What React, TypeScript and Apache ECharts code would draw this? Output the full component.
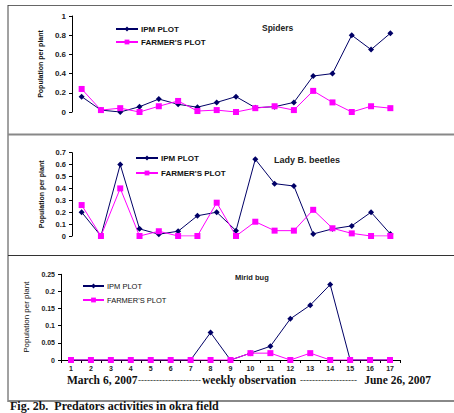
import React, { useEffect, useRef } from "react";
import * as echarts from "echarts";

const weeks = ["1","2","3","4","5","6","7","8","9","10","11","12","13","14","15","16","17"];

const spidersIPM = [0.16, 0.02, 0, 0.055, 0.135, 0.08, 0.05, 0.1, 0.16, 0.045, 0.055, 0.1, 0.375, 0.4, 0.8, 0.65, 0.82];
const spidersFarmer = [0.24, 0.02, 0.04, 0, 0.06, 0.115, 0.01, 0.02, 0, 0.04, 0.06, 0.02, 0.22, 0.1, 0, 0.06, 0.04];

const ladyIPM = [0.2, 0, 0.6, 0.06, 0.015, 0.04, 0.17, 0.2, 0.045, 0.645, 0.44, 0.42, 0.017, 0.06, 0.085, 0.2, 0.017];
const ladyFarmer = [0.26, 0, 0.4, 0, 0.04, 0, 0, 0.28, 0, 0.12, 0.045, 0.045, 0.22, 0.065, 0.022, 0, 0];

const miridIPM = [0, 0, 0, 0, 0, 0, 0, 0.08, 0, 0.02, 0.04, 0.12, 0.16, 0.22, 0, 0, 0];
const miridFarmer = [0, 0, 0, 0, 0, 0, 0, 0, 0, 0.02, 0.02, 0, 0.02, 0, 0, 0, 0];

const panelTitles = ["Spiders", "Lady B. beetles", "Mirid bug"];
const seriesNames = ["IPM PLOT", "FARMER'S PLOT"];
const yName = "Population per plant";

const NAVY = "#000066";
const MAGENTA = "#FF00FF";
const SANS = "'Liberation Sans', Arial, sans-serif";
const SERIF = "'Liberation Serif', 'Times New Roman', serif";

export default function App() {
  const ref = useRef<HTMLDivElement>(null);

  useEffect(() => {
    if (!ref.current) return;
    const chart = echarts.init(ref.current, undefined, { renderer: "svg" });

    const grids = [
      { left: 72, top: 16, width: 328, height: 96 },
      { left: 72, top: 152.7, width: 328, height: 83.3 },
      { left: 61, top: 274.3, width: 339, height: 85.7 },
    ];

    const yCfg = [
      { max: 1, interval: 0.2, font: 8, weight: "bold", nameSize: 7, nameWeight: "bold", nameGap: 27 },
      { max: 0.7, interval: 0.1, font: 7.5, weight: "bold", nameSize: 7, nameWeight: "bold", nameGap: 27 },
      { max: 0.25, interval: 0.05, font: 7, weight: "bold", nameSize: 8, nameWeight: "normal", nameGap: 30 },
    ];

    const data = [
      [spidersIPM, spidersFarmer],
      [ladyIPM, ladyFarmer],
      [miridIPM, miridFarmer],
    ];

    const series: any[] = [];
    data.forEach((pair, i) => {
      series.push({
        name: seriesNames[0],
        type: "line",
        xAxisIndex: i,
        yAxisIndex: i,
        data: pair[0],
        symbol: "diamond",
        symbolSize: 6,
        lineStyle: { color: NAVY, width: 1 },
        itemStyle: { color: NAVY },
      });
      series.push({
        name: seriesNames[1],
        type: "line",
        xAxisIndex: i,
        yAxisIndex: i,
        data: pair[1],
        symbol: "rect",
        symbolSize: 6,
        lineStyle: { color: MAGENTA, width: 1 },
        itemStyle: { color: MAGENTA },
      });
    });

    const legendPos = [
      { left: 115, top: 25, itemWidth: 22, itemGap: 4, font: 8, weight: "bold" },
      { left: 135, top: 154, itemWidth: 22, itemGap: 6, font: 8, weight: "bold" },
      { left: 82, top: 282, itemWidth: 21, itemGap: 5, font: 7.5, weight: "normal" },
    ];

    const titlePos = [
      { x: 262, y: 28, size: 8.5, weight: "bold" },
      { x: 274, y: 160, size: 9, weight: "bold" },
      { x: 235, y: 277, size: 7.5, weight: "bold" },
    ];

    const option: any = {
      animation: false,
      grid: grids,
      xAxis: grids.map((_, i) => ({
        type: "category",
        gridIndex: i,
        data: weeks,
        boundaryGap: true,
        show: i === 2,
        axisLine: { lineStyle: { color: "#000", width: 1 } },
        axisTick: { show: true, length: 3, lineStyle: { color: "#000" } },
        axisLabel: { fontSize: 7, fontWeight: "bold", color: "#222", fontFamily: SANS, margin: 5 },
      })),
      yAxis: yCfg.map((c, i) => ({
        type: "value",
        gridIndex: i,
        min: 0,
        max: c.max,
        interval: c.interval,
        splitLine: { show: false },
        axisLine: { show: true, lineStyle: { color: "#000", width: 1 } },
        axisTick: { show: true, length: 3, lineStyle: { color: "#000" } },
        axisLabel: { fontSize: c.font, fontWeight: c.weight, color: "#222", fontFamily: SANS, margin: 6 },
        name: yName,
        nameLocation: "middle",
        nameRotate: 90,
        nameGap: c.nameGap,
        nameTextStyle: { fontSize: c.nameSize, fontWeight: c.nameWeight, color: "#111", fontFamily: SANS },
      })),
      legend: legendPos.map((l) => ({
        orient: "vertical",
        left: l.left,
        top: l.top,
        itemWidth: l.itemWidth,
        itemHeight: 6,
        itemGap: l.itemGap + 1,
        padding: 0,
        data: seriesNames,
        selectedMode: false,
        textStyle: { fontSize: l.font, fontWeight: l.weight, color: "#111", fontFamily: SANS, padding: [0, 0, 0, -2] },
      })),
      series,
      graphic: [
        { type: "line", shape: { x1: 8, y1: 5.5, x2: 452, y2: 5.5 }, style: { stroke: "#666", lineWidth: 1 } },
        { type: "line", shape: { x1: 8, y1: 5, x2: 8, y2: 402 }, style: { stroke: "#444", lineWidth: 1 } },
        { type: "line", shape: { x1: 8, y1: 134.5, x2: 454, y2: 134.5 }, style: { stroke: "#888", lineWidth: 2 } },
        { type: "line", shape: { x1: 8, y1: 255.5, x2: 454, y2: 255.5 }, style: { stroke: "#333", lineWidth: 1 } },
        { type: "line", shape: { x1: 8, y1: 401, x2: 454, y2: 401 }, style: { stroke: "#888", lineWidth: 2 } },
        ...titlePos.map((t, i) => ({
          type: "text",
          x: t.x,
          y: t.y,
          style: {
            text: panelTitles[i],
            font: `${t.weight} ${t.size}px ${SANS}`,
            fill: "#222",
            textVerticalAlign: "middle",
          },
        })),
        {
          type: "text",
          x: 67,
          y: 380,
          style: { text: "March 6, 2007", font: `bold 11.5px ${SERIF}`, fill: "#111", textVerticalAlign: "middle" },
        },
        {
          type: "text",
          x: 138,
          y: 380,
          style: { text: "---------------------", font: `normal 9px ${SERIF}`, fill: "#111", textVerticalAlign: "middle" },
        },
        {
          type: "text",
          x: 202,
          y: 380,
          style: { text: "weekly observation", font: `bold 11.5px ${SERIF}`, fill: "#111", textVerticalAlign: "middle" },
        },
        {
          type: "text",
          x: 300,
          y: 380,
          style: { text: "-------------------", font: `normal 9px ${SERIF}`, fill: "#111", textVerticalAlign: "middle" },
        },
        {
          type: "text",
          x: 431,
          y: 380,
          style: { text: "June 26, 2007", font: `bold 11.5px ${SERIF}`, fill: "#111", textAlign: "right", textVerticalAlign: "middle" },
        },
        {
          type: "text",
          x: 10,
          y: 406,
          style: { text: "Fig. 2b.  Predators activities in okra field", font: `bold 12px ${SERIF}`, fill: "#111", textVerticalAlign: "middle" },
        },
      ],
    };

    chart.setOption(option);
    return () => chart.dispose();
  }, []);

  return (
    <div
      ref={ref}
      style={{ position: "absolute", left: 0, top: 0, width: 454, height: 413, background: "#fff" }}
    />
  );
}
